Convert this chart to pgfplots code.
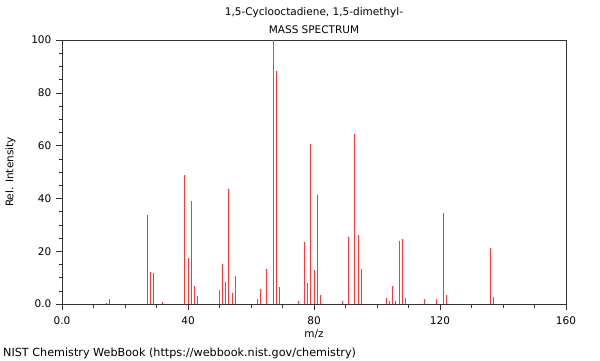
\documentclass[border=0pt]{standalone}
\usepackage{pgfplots}
\pgfplotsset{compat=1.18}
\usepackage{fontspec}
\setmainfont{DejaVu Sans}
\pgfplotstableread{
mz int
14 0.5
15 1.8
27 33.7
28 12.0
29 11.6
32 0.8
39 48.9
40 17.3
41 39.0
42 6.8
43 3.2
50 5.3
51 15.0
52 8.5
53 43.6
54 4.0
55 10.7
62 1.8
63 5.6
65 13.4
67 100
68 88.1
69 6.4
75 1.1
77 23.5
78 8.1
79 60.6
80 12.9
81 41.2
82 3.4
89 1.3
91 25.3
93 64.3
94 26.1
95 13.4
103 2.4
104 1.3
105 6.8
106 1.3
107 23.9
108 24.7
109 2.4
115 2.0
119 1.8
121 34.5
122 3.4
136 21.2
137 2.8
}\spectrum
\begin{document}
\fontsize{10.5bp}{12.5bp}\selectfont
\begin{tikzpicture}[x=1bp,y=1bp]
\path[use as bounding box] (0,0) rectangle (600,360);
\begin{axis}[
  at={(62bp,56bp)}, anchor=south west,
  width=504bp, height=264bp, scale only axis,
  xmin=0, xmax=160, ymin=0, ymax=100,
  xtick={0,40,80,120,160}, xticklabels={0.0,40,80,120,160},
  minor x tick num=3,
  ytick={0,20,40,60,80,100}, yticklabels={0.0,20,40,60,80,100},
  minor y tick num=3,
  tick align=outside, tick pos=left,
  major tick length=6bp, minor tick length=3.5bp,
  axis line style={black!80},
  every tick/.style={black!80},
  ticklabel style={font=\fontsize{10.5bp}{12.5bp}\selectfont},
  xticklabel style={yshift=-3bp},
  yticklabel style={xshift=-1bp},
  /pgf/number format/assume math mode=true,
  xlabel={m/z}, ylabel={Rel. Intensity},
  label style={font=\fontsize{10.5bp}{12.5bp}\selectfont},
  xlabel style={at={(axis description cs:0.5,-0.1155)}, anchor=center},
  ylabel style={at={(axis description cs:-0.1022,0.5)}, anchor=center},
  clip=false,
]
\addplot[ycomb, draw={rgb,255:red,255;green,55;blue,55}, line width=1bp, mark=none] table[x=mz,y=int] {\spectrum};
\end{axis}
\node[anchor=center, inner sep=0pt] at (314,347) {1,5-Cyclooctadiene, 1,5-dimethyl-};
\node[anchor=center, inner sep=0pt] at (314,330) {MASS SPECTRUM};
\node[anchor=west, inner sep=0pt, font=\fontsize{11.2bp}{13bp}\selectfont] at (3,7) {NIST Chemistry WebBook (https://webbook.nist.gov/chemistry)};
\end{tikzpicture}
\end{document}
